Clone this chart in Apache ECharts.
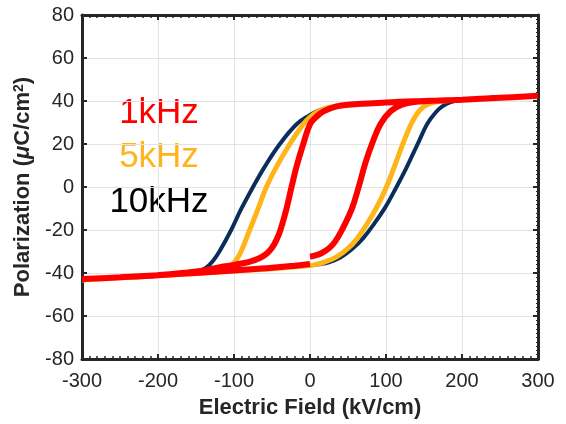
<!DOCTYPE html>
<html>
<head>
<meta charset="utf-8">
<script src="https://cdn.jsdelivr.net/npm/echarts@6/dist/echarts.min.js"></script>
<style>html,body{margin:0;padding:0;background:#fff;}#c{width:566px;height:424px;}</style>
</head>
<body>
<div id="c"></div>
<script>
// Tick values
const xTicks = [-300, -200, -100, 0, 100, 200, 300];
const yTicks = [-80, -60, -40, -20, 0, 20, 40, 60, 80];

// 10 kHz loop (navy)
const navyLowE = [-300,-250,-200,-150,-100,-50,0,12,25,40,55,70,85,99,110,122,133,143,154,165,174,185,200,250,300];
const navyLowP = [-43,-42,-41,-40,-38.8,-37.8,-36.5,-36,-35,-32.8,-29,-23.8,-16.8,-9.5,-2.5,5.5,13.5,21,29.2,34.5,37.5,39.5,40.6,41.5,42.4];
const navyUpE = [300,250,200,150,100,50,25,8.8,0,-17.7,-39.7,-59.5,-75,-90.5,-103.7,-119,-128,-137,-147,-160,-200,-250,-300];
const navyUpP = [42.4,41.5,40.6,40,39.3,38.3,37,35.2,33.5,29.2,20,9.5,0,-10.2,-20,-29.9,-34.5,-37.6,-39.2,-39.9,-41,-42,-43];

// 5 kHz loop (yellow)
const yelLowE = [-300,-250,-200,-150,-100,-50,0,8,20,35,50,62,75,88,100,111,121,132,141,150,165,200,250,300];
const yelLowP = [-43.3,-42.2,-41.2,-40.1,-39,-38,-36.5,-36,-34.8,-32.5,-28.6,-24,-17.2,-9.3,-0.5,9.5,19,28.5,34.2,37.5,39.5,40.6,41.5,42.4];
const yelUpE = [300,250,200,150,100,50,25,10,0,-8.9,-26.5,-44,-57.4,-68.4,-79.4,-90.5,-97,-104,-113,-130,-160,-200,-250,-300];
const yelUpP = [42.4,41.5,40.6,40,39.3,38.3,37,35,32.5,29.2,20,9.5,0,-10.2,-20,-29.9,-33.8,-36.6,-38.4,-39.4,-40.3,-41.2,-42.2,-43.3];

// 1 kHz loop (red): starts at 0, rises, returns, ends back near 0
const redLowE = [0,5,15,25,33,42,55,64,72.7,81.5,92.6,106,121,140,170,200,250,300];
const redLowP = [-32.3,-32,-30.8,-28.5,-25.4,-20,-10.2,0,11,20,29.2,35.2,38.3,39.6,40.2,40.6,41.5,42.4];
const redUpE = [300,250,200,150,100,50,35,17.6,8,0,-8.9,-17.7,-24.3,-31,-38.9,-44,-50,-57,-66,-80,-100,-120,-150,-200,-250,-300];
const redUpP = [42.4,41.5,40.6,40,39.3,38.3,37.5,35.2,32.5,29.2,20,9.5,0,-10.2,-20,-24.5,-28.3,-31,-33,-34.8,-36.2,-37.4,-39.3,-41,-42,-42.8];
const redRetE = [-300,-250,-200,-150,-100,-50,-20,0];
const redRetP = [-42.8,-42,-41,-40,-38.8,-37.6,-36.6,-35.8];

const labels = ['1kHz', '5kHz', '10kHz'];
const labelColors = ['#FF0000', '#FFB51A', '#000000'];

function zip(E, P) { return E.map((e, i) => [e, P[i]]); }

const navyData = zip(navyLowE, navyLowP).concat(zip(navyUpE, navyUpP));
const yelData = zip(yelLowE, yelLowP).concat(zip(yelUpE, yelUpP));
const redData = zip(redLowE, redLowP).concat(zip(redUpE, redUpP), zip(redRetE, redRetP));

const axisColor = '#262626';
const font = 'Liberation Sans, Arial, sans-serif';

function xAx(pos, show) {
  return {
    type: 'value', position: pos, min: xTicks[0], max: xTicks[xTicks.length - 1], interval: 100,
    axisLine: { show: true, onZero: false, lineStyle: { color: axisColor, width: 3 } },
    axisTick: { show: true, inside: true, length: 5, lineStyle: { color: axisColor, width: 2 } },
    minorTick: { show: true, splitNumber: 10, length: 3, lineStyle: { color: axisColor, width: 1.5 } },
    splitLine: { show: show, lineStyle: { color: '#e3e3e3', width: 1 } },
    axisLabel: { show: show, color: axisColor, fontSize: 20, fontFamily: font, margin: 12 },
    name: show ? 'Electric Field (kV/cm)' : '', nameLocation: 'middle', nameGap: 38,
    nameTextStyle: { color: axisColor, fontSize: 22, fontWeight: 'bold', fontFamily: font }
  };
}
function yAx(pos, show) {
  return {
    type: 'value', position: pos, min: yTicks[0], max: yTicks[yTicks.length - 1], interval: 20,
    axisLine: { show: true, onZero: false, lineStyle: { color: axisColor, width: 3 } },
    axisTick: { show: true, inside: true, length: 5, lineStyle: { color: axisColor, width: 2 } },
    minorTick: { show: true, splitNumber: 10, length: 2, lineStyle: { color: axisColor, width: 1 } },
    splitLine: { show: show, lineStyle: { color: '#e3e3e3', width: 1 } },
    axisLabel: { show: show, color: axisColor, fontSize: 20, fontFamily: font, margin: 8 },
    name: show ? '{a|Polarization (}{i|μ}{a|C/cm}{s|2}{a|)}' : '', nameLocation: 'middle', nameGap: 42,
    nameTextStyle: {
      color: axisColor, fontSize: 22, fontWeight: 'bold', fontFamily: font,
      rich: {
        a: { fontSize: 22, fontWeight: 'bold', fontFamily: font, color: axisColor },
        i: { fontSize: 22, fontWeight: 'bold', fontStyle: 'italic', fontFamily: font, color: axisColor },
        s: { fontSize: 14, fontWeight: 'bold', fontFamily: font, color: axisColor, verticalAlign: 'top', padding: [0, 0, 9, 0] }
      }
    }
  };
}

const chart = echarts.init(document.getElementById('c'), null, { renderer: 'canvas' });
chart.setOption({
  animation: false,
  backgroundColor: '#fff',
  grid: { left: 82, right: 28, top: 15, bottom: 63 },
  xAxis: [xAx('bottom', true), xAx('top', false)],
  yAxis: [yAx('left', true), yAx('right', false)],
  series: [
    { type: 'line', data: navyData, xAxisIndex: 0, yAxisIndex: 0, showSymbol: false, smooth: 0.4,
      lineStyle: { color: '#0B2D5C', width: 4 } },
    { type: 'line', data: yelData, xAxisIndex: 0, yAxisIndex: 0, showSymbol: false, smooth: 0.4,
      lineStyle: { color: '#FFB51A', width: 5 } },
    { type: 'line', data: redData, xAxisIndex: 0, yAxisIndex: 0, showSymbol: false, smooth: 0.4,
      lineStyle: { color: '#FF0000', width: 6 } }
  ],
  graphic: labels.map((t, i) => ({
    type: 'text', x: 159, y: [113, 157, 202][i],
    style: { text: t, fill: labelColors[i], fontSize: 35, fontFamily: font, textAlign: 'center', textVerticalAlign: 'middle' }
  }))
});
</script>
</body>
</html>
